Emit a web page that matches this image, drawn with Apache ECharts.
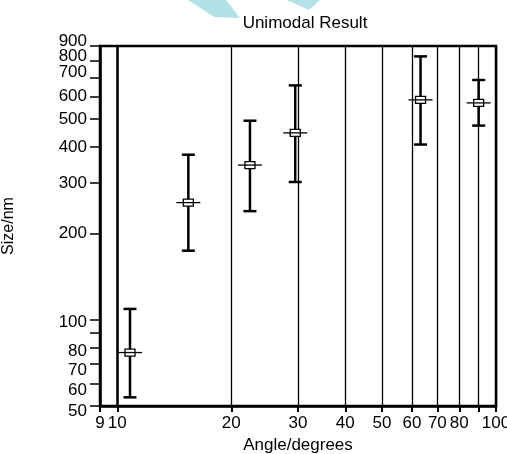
<!DOCTYPE html>
<html>
<head>
<meta charset="utf-8">
<title>Unimodal Result</title>
<script src="https://cdn.jsdelivr.net/npm/echarts@6/dist/echarts.min.js"></script>
<style>
    html, body { margin: 0; padding: 0; background: #fff; }
    #chart { width: 507px; height: 454px; }
</style>
</head>
<body>
<div id="chart"></div>
<script>
// 数据
var angles = [10.8, 15.4, 22.4, 29.5, 63.2, 90];
var sizes = [76.8, 256, 346, 448, 584, 570];
var lows = [53.6, 174, 239, 302, 408, 475];
var highs = [109, 376, 494, 656, 828, 685];

var xTicks = [9, 10, 20, 30, 40, 50, 60, 70, 80, 90, 100];
var xLabels = [9, 10, 20, 30, 40, 50, 60, 70, 80, 100];
var yTicks = [50, 60, 70, 80, 90, 100, 200, 300, 400, 500, 600, 700, 800, 900];
// 标签太密，分在两个轴上，避免被自动隐藏
var yLabelsA = [50, 70, 100, 300, 500, 700, 900];
var yLabelsB = [60, 80, 200, 400, 600, 800];

(function () {
    'use strict';
    var font = 'Liberation Sans, Arial, sans-serif';
    // 原图标签上下挤开的偏移(px)，正数向下
    var labelShift = {50: 5, 60: 7, 70: 6, 80: 4, 100: 3, 700: -5, 800: -4, 900: -5};

    var seriesData = [];
    for (var i = 0; i < angles.length; i++) {
        seriesData.push([angles[i], sizes[i], lows[i], highs[i]]);
    }

    function renderBar(params, api) {
        var c = api.coord([api.value(0), api.value(1)]);
        var lo = api.coord([api.value(0), api.value(2)]);
        var hi = api.coord([api.value(0), api.value(3)]);
        var line = {stroke: '#000', lineWidth: 2.5};
        var thin = {stroke: '#000', lineWidth: 1.3};
        return {
            type: 'group',
            children: [
                {type: 'line', shape: {x1: c[0], y1: lo[1], x2: c[0], y2: hi[1]}, style: line},
                {type: 'line', shape: {x1: c[0] - 6.5, y1: hi[1], x2: c[0] + 6.5, y2: hi[1]}, style: line},
                {type: 'line', shape: {x1: c[0] - 6.5, y1: lo[1], x2: c[0] + 6.5, y2: lo[1]}, style: line},
                {type: 'rect', shape: {x: c[0] - 5, y: c[1] - 3.5, width: 10, height: 7},
                    style: {fill: '#fff', stroke: '#000', lineWidth: 1.3}},
                {type: 'line', shape: {x1: c[0] - 12, y1: c[1], x2: c[0] + 12, y2: c[1]}, style: thin}
            ]
        };
    }

    // y标签用rich做上下偏移
    var rich = {};
    for (var k in labelShift) {
        var s = labelShift[k];
        rich['s' + k] = {
            fontFamily: font, fontSize: 17, color: '#000',
            padding: s > 0 ? [2 * s, 0, 0, 0] : [0, 0, -2 * s, 0]
        };
    }
    function yFormatter(v) {
        var key = String(Math.round(v));
        if (labelShift[key] !== undefined) {
            return '{s' + key + '|' + key + '}';
        }
        return key;
    }

    function yLabel(list) {
        return {
            customValues: list, margin: 13, formatter: yFormatter, rich: rich,
            fontFamily: font, fontSize: 17, color: '#000',
            showMinLabel: true, showMaxLabel: true, hideOverlap: false
        };
    }

    var myChart = echarts.init(document.getElementById('chart'));
    var option = {
        backgroundColor: '#fff',
        animation: false,
        title: {
            text: 'Unimodal Result',
            left: 300,
            top: 10,
            textAlign: 'center',
            textStyle: {fontFamily: font, fontSize: 17, fontWeight: 'normal', color: '#000'}
        },
        graphic: [
            // 水印
            {type: 'polygon', shape: {points: [[188, 0], [226, 0], [240, 18], [214, 17]]},
                style: {fill: '#b3e1e7'}, z: -1},
            {type: 'polygon', shape: {points: [[287, 0], [320, 0], [309, 10]]},
                style: {fill: '#b3e1e7'}, z: -1}
        ],
        grid: {
            left: 100, right: 11, top: 46, bottom: 48,
            outerBoundsMode: 'none',
            show: true, borderColor: '#000', borderWidth: 2.5
        },
        xAxis: {
            type: 'log',
            min: 9,
            max: 100,
            name: 'Angle/degrees',
            nameLocation: 'middle',
            nameGap: 30,
            nameTextStyle: {fontFamily: font, fontSize: 17, color: '#000'},
            axisLine: {lineStyle: {color: '#000', width: 2.5}},
            axisTick: {show: true, length: 6, customValues: xTicks, lineStyle: {color: '#000', width: 2}},
            axisLabel: {customValues: xLabels, margin: 9, fontFamily: font, fontSize: 17, color: '#000',
                showMinLabel: true, showMaxLabel: true, hideOverlap: false},
            splitLine: {show: true, lineStyle: {color: '#000', width: 1.3}},
            minorTick: {show: false}
        },
        yAxis: [
            {
                type: 'log',
                min: 50,
                max: 900,
                name: 'Size/nm',
                nameLocation: 'middle',
                nameGap: 83,
                nameRotate: 90,
                nameTextStyle: {fontFamily: font, fontSize: 16, color: '#000'},
                axisLine: {lineStyle: {color: '#000', width: 2.5}},
                axisTick: {show: true, length: 10, customValues: yTicks, lineStyle: {color: '#000', width: 1.5}},
                axisLabel: yLabel(yLabelsA),
                splitLine: {show: false}
            },
            {
                type: 'log',
                min: 50,
                max: 900,
                position: 'left',
                axisLine: {show: false},
                axisTick: {show: false},
                axisLabel: yLabel(yLabelsB),
                splitLine: {show: false}
            }
        ],
        series: [
            {
                name: 'grid10',
                type: 'line',
                data: [],
                silent: true,
                markLine: {
                    symbol: 'none',
                    silent: true,
                    label: {show: false},
                    lineStyle: {color: '#000', width: 2.5, type: 'solid'},
                    data: [{xAxis: 10}]
                }
            },
            {
                name: 'size',
                type: 'custom',
                renderItem: renderBar,
                data: seriesData,
                z: 5
            }
        ]
    };
    myChart.setOption(option);
})();
</script>
</body>
</html>
